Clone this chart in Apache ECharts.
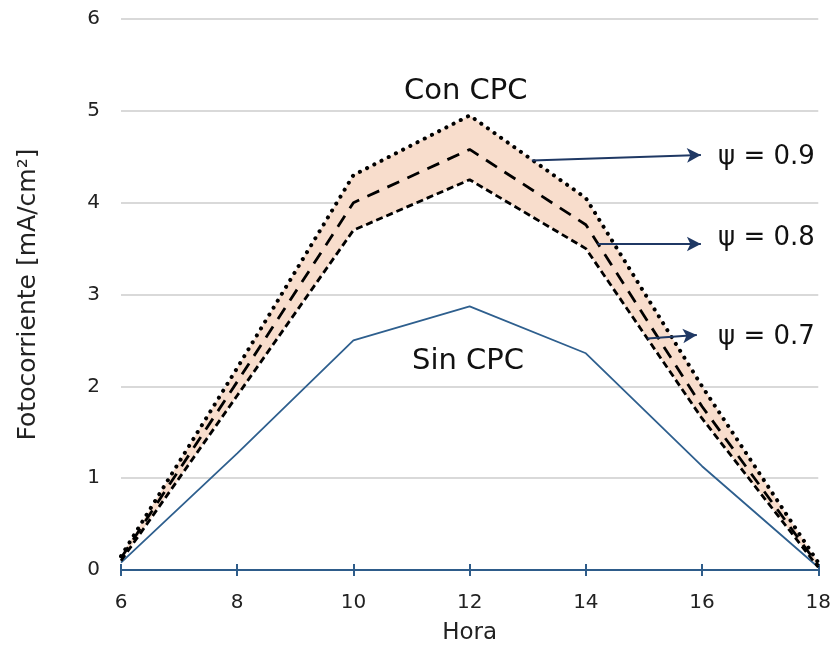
<!DOCTYPE html>
<html><head><meta charset="utf-8">
<script src="https://cdn.jsdelivr.net/npm/echarts@6/dist/echarts.min.js"></script>
<style>html,body{margin:0;padding:0;background:#fff}#c{width:834px;height:650px}</style>
</head><body><div id="c"></div>
<script>
const hours = [6, 8, 10, 12, 14, 16, 18];
const sinCPC = [0.08, 1.27, 2.5, 2.87, 2.36, 1.13, 0.03];
const psi09 = [0.15, 2.2, 4.3, 4.95, 4.05, 2.0, 0.08];
const psi08 = [0.13, 2.05, 4.0, 4.58, 3.76, 1.78, 0.05];
const psi07 = [0.1, 1.9, 3.7, 4.25, 3.5, 1.65, 0.03];
const yTicks = [0, 1, 2, 3, 4, 5, 6];
const arrows = [
  {label: 'ψ = 0.9', from: [13.07, 4.46], to: [15.98, 4.52]},
  {label: 'ψ = 0.8', from: [14.2, 3.55], to: [15.98, 3.55]},
  {label: 'ψ = 0.7', from: [15.06, 2.52], to: [15.91, 2.56]}
];

const FONT = 'DejaVu Sans';
const pts = arr => hours.map((h, i) => [h, arr[i]]);
const bandData = hours.map((h, i) => [h, psi07[i], psi09[i]]);

const chart = echarts.init(document.getElementById('c'));
const txt = (t, left, top, size) => ({type: 'text', left: left, top: top, z: 100,
  style: {text: t, fontSize: size, fontFamily: FONT, fill: '#111'}});

chart.setOption({
  animation: false,
  textStyle: {fontFamily: FONT},
  grid: {left: 121, right: 12, top: 19, bottom: 78},
  xAxis: [
    {
      type: 'value', min: 6, max: 18, interval: 2, position: 'bottom',
      axisLine: {show: true, lineStyle: {color: '#2e5c8a', width: 2}},
      splitLine: {show: false},
      name: 'Hora', nameLocation: 'middle', nameGap: 52,
      nameTextStyle: {fontFamily: FONT, fontSize: 23, color: '#222'},
      axisTick: {show: true, length: 6, lineStyle: {color: '#2e5c8a', width: 2}},
      axisLabel: {show: true, fontSize: 20, fontFamily: FONT, color: '#222', margin: 23}
    },
    {
      type: 'value', min: 6, max: 18, interval: 2, position: 'bottom',
      axisLine: {show: true, lineStyle: {color: '#2e5c8a', width: 2}},
      splitLine: {show: false},
      axisTick: {show: true, inside: true, length: 6, lineStyle: {color: '#2e5c8a', width: 2}},
      axisLabel: {show: false}
    }
  ],
  yAxis: {
    type: 'value', min: 0, max: 6, interval: 1,
    name: 'Fotocorriente [mA/cm²]', nameLocation: 'middle', nameGap: 80,
    nameTextStyle: {fontFamily: FONT, fontSize: 25, color: '#222'},
    axisLine: {show: false}, axisTick: {show: false},
    axisLabel: {show: true, fontSize: 20, fontFamily: FONT, color: '#222', margin: 21,
      formatter: v => yTicks.includes(v) ? String(v) : ''},
    splitLine: {show: true, lineStyle: {color: '#d9d9d9', width: 2}}
  },
  series: [
    {type: 'custom', data: bandData, z: 1, silent: true,
      renderItem: function (params, api) {
        if (params.dataIndex !== 0) return;
        const upper = bandData.map(d => api.coord([d[0], d[2]]));
        const lower = bandData.map(d => api.coord([d[0], d[1]])).reverse();
        return {type: 'polygon', shape: {points: upper.concat(lower)},
          style: {fill: '#f8ddcc'}};
      }},
    {type: 'line', data: pts(sinCPC), symbol: 'none', z: 3,
      lineStyle: {color: '#2e5f8e', width: 1.8}},
    {type: 'line', data: pts(psi07), symbol: 'none', z: 4,
      lineStyle: {color: '#000', width: 2.8, type: [7, 4]}},
    {type: 'line', data: pts(psi08), symbol: 'none', z: 4,
      lineStyle: {color: '#000', width: 2.8, type: [13, 9]}},
    {type: 'line', data: pts(psi09), symbol: 'none', z: 4,
      lineStyle: {color: '#000', width: 4, type: [0.1, 8], cap: 'round'},
      markLine: {
        silent: true, symbol: ['none', 'arrow'], symbolSize: [11, 14],
        label: {show: false},
        lineStyle: {color: '#1f3864', width: 2, type: 'solid'},
        data: arrows.map(a => [{coord: a.from}, {coord: a.to}])
      }}
  ],
  graphic: [
    txt('Con CPC', 404, 77, 29),
    txt('Sin CPC', 412, 347, 29),
    txt(arrows[0].label, 718, 144, 26),
    txt(arrows[1].label, 718, 225, 26),
    txt(arrows[2].label, 718, 324, 26)
  ]
});
</script></body></html>
